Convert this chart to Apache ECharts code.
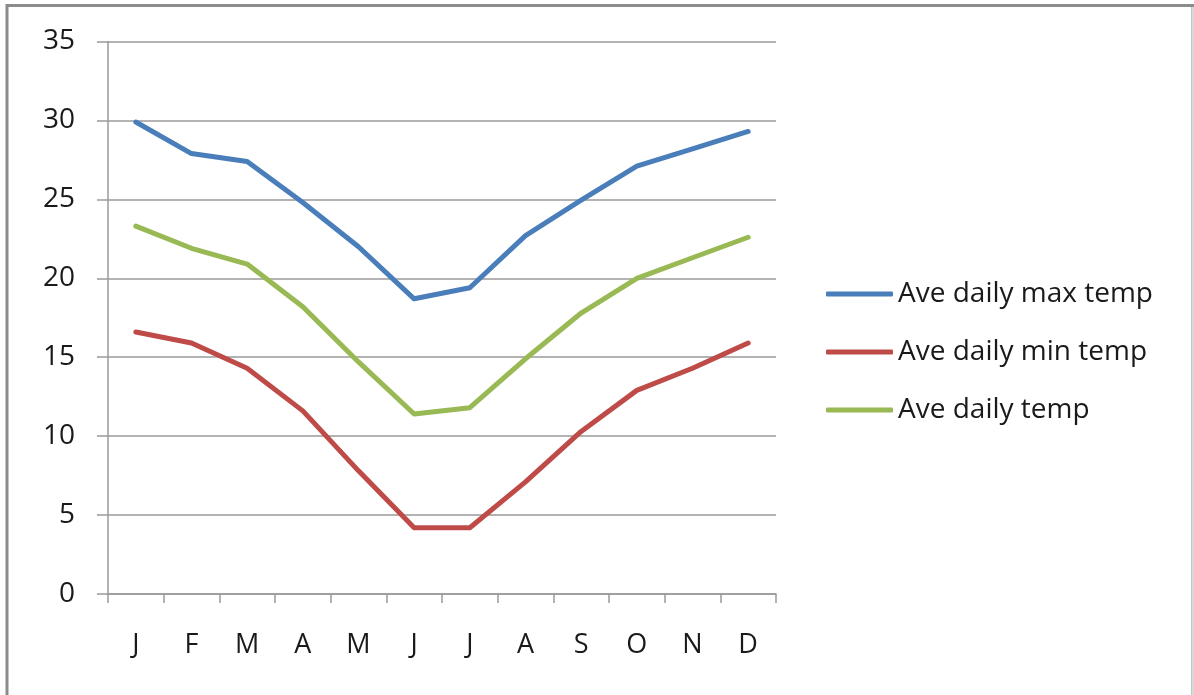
<!DOCTYPE html>
<html>
<head>
<meta charset="utf-8">
<script src="https://cdn.jsdelivr.net/npm/echarts@6/dist/echarts.min.js"></script>
<style>
  html, body { margin: 0; padding: 0; background: #fff; }
  #chart { width: 1194px; height: 695px; }
</style>
</head>
<body>
<div id="chart"></div>
<script>
// Months along the x axis
const months = ['J', 'F', 'M', 'A', 'M', 'J', 'J', 'A', 'S', 'O', 'N', 'D'];

// Monthly temperatures (°C)
const maxTemp = [29.9, 27.9, 27.4, 24.8, 22.0, 18.7, 19.4, 22.7, 24.95, 27.1, 28.2, 29.3];
const minTemp = [16.6, 15.9, 14.3, 11.6, 7.8, 4.2, 4.2, 7.1, 10.3, 12.9, 14.3, 15.9];
const avgTemp = [23.3, 21.9, 20.9, 18.2, 14.7, 11.4, 11.8, 14.9, 17.8, 20.0, 21.3, 22.6];

const seriesNames = ['Ave daily max temp', 'Ave daily min temp', 'Ave daily temp'];
const seriesColors = ['#4a7ebb', '#be4b48', '#98b954'];
const seriesValues = [maxTemp, minTemp, avgTemp];

const FONT = '"Open Sans", Lato, sans-serif';

const chart = echarts.init(document.getElementById('chart'), null, { renderer: 'canvas' });

chart.setOption({
  animation: false,
  backgroundColor: '#fff',
  textStyle: { fontFamily: FONT },
  graphic: [
    {
      type: 'polyline',
      shape: { points: [[7, 700], [7, 5.5], [1193, 5.5], [1193, 700]] },
      style: { stroke: '#8c8c8c', lineWidth: 3, fill: null },
      silent: true
    },
    {
      type: 'line',
      shape: { x1: 1193, y1: 7, x2: 1193, y2: 700 },
      style: { stroke: '#d9d9d9', lineWidth: 2 },
      silent: true
    }
  ],
  grid: { left: 108, right: 418, top: 41.5, bottom: 101, containLabel: false },
  legend: {
    orient: 'vertical',
    left: 826,
    top: 280,
    padding: 0,
    itemWidth: 67,
    itemHeight: 5,
    itemGap: 30,
    icon: 'roundRect',
    textStyle: { fontFamily: FONT, fontSize: 28, lineHeight: 28, color: '#1a1a1a' },
    data: seriesNames
  },
  xAxis: {
    type: 'category',
    data: months,
    boundaryGap: true,
    axisLine: { lineStyle: { color: '#9a9a9a', width: 1.5 } },
    axisTick: { show: true, length: 9, inside: false, lineStyle: { color: '#9a9a9a', width: 1.5 } },
    axisLabel: { margin: 38, fontSize: 27, color: '#1a1a1a', fontFamily: FONT },
    splitLine: { show: false }
  },
  yAxis: {
    type: 'value',
    min: 0,
    max: 35,
    interval: 5,
    axisLine: { show: true, lineStyle: { color: '#9a9a9a', width: 1.5 } },
    axisTick: { show: true, length: 11, lineStyle: { color: '#9a9a9a', width: 1.5 } },
    axisLabel: { margin: 33, fontSize: 28, color: '#1a1a1a', fontFamily: FONT },
    splitLine: { show: true, lineStyle: { color: '#9a9a9a', width: 1.5 } }
  },
  series: seriesValues.map((vals, i) => ({
    name: seriesNames[i],
    type: 'line',
    data: vals,
    color: seriesColors[i],
    symbol: 'none',
    lineStyle: { width: 5, color: seriesColors[i], cap: 'round', join: 'round' }
  }))
});
</script>
</body>
</html>
